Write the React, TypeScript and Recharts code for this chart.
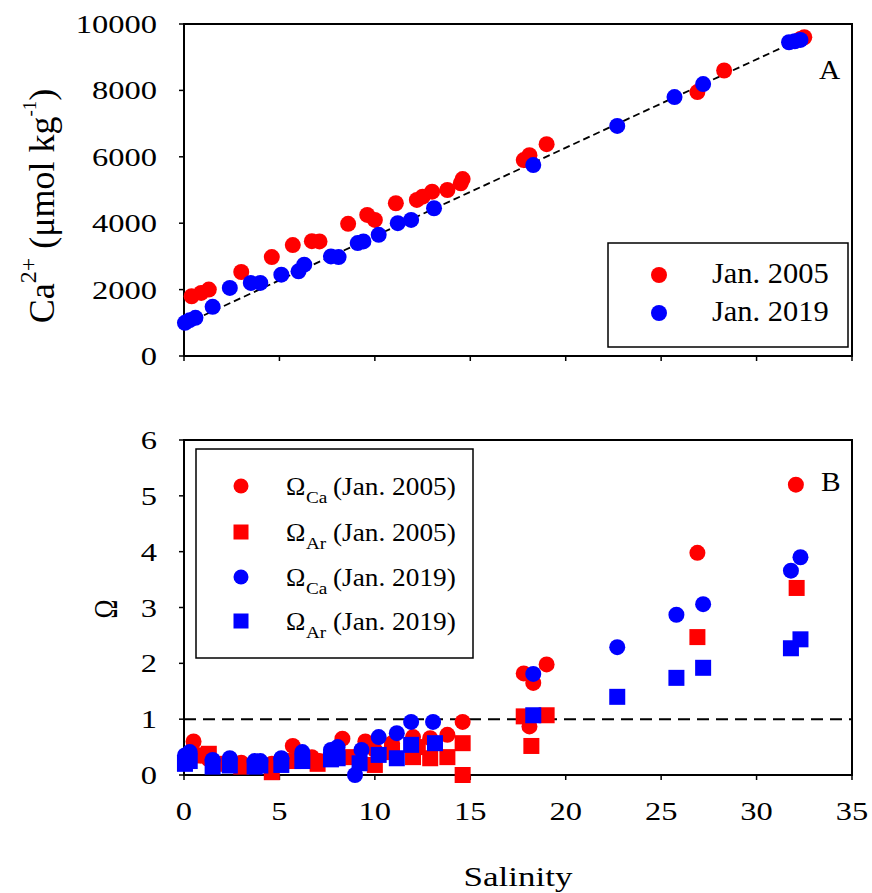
import React from 'react';
import { ScatterChart, Scatter, XAxis, YAxis, ReferenceArea } from 'recharts';

const RED = '#ff0000';
const BLUE = '#0000ff';
const FONT = '"Liberation Serif", "Times New Roman", serif';

// Tick values
const salinityTicks = [0, 5, 10, 15, 20, 25, 30, 35];
const caTicks = [0, 2000, 4000, 6000, 8000, 10000];
const omegaTicks = [0, 1, 2, 3, 4, 5, 6];

// Panel A: Ca2+ (µmol/kg) vs salinity  [salinity, Ca]
const ca2005 = [
  [0.4, 1800], [0.9, 1900], [1.3, 2000], [3.0, 2530], [4.6, 2980], [5.7, 3340],
  [6.7, 3460], [7.1, 3450], [8.6, 3980], [9.6, 4250], [10.0, 4100], [11.1, 4600],
  [12.2, 4700], [12.5, 4800], [13.0, 4950], [13.8, 5000], [14.5, 5200], [14.6, 5330],
  [17.8, 5900], [18.1, 6050], [19.0, 6380], [26.9, 7950], [28.3, 8600], [32.3, 9550], [32.5, 9600],
];
const ca2019 = [
  [0.05, 1000], [0.3, 1080], [0.6, 1150], [1.5, 1480], [2.4, 2050], [3.5, 2200],
  [4.0, 2200], [5.1, 2450], [6.0, 2550], [6.3, 2750], [7.7, 3000], [8.1, 2980],
  [9.1, 3400], [9.4, 3450], [10.2, 3650], [11.2, 4000], [11.9, 4100], [13.1, 4450],
  [18.3, 5750], [22.7, 6930], [25.7, 7800], [27.2, 8190], [31.7, 9450], [32.0, 9480], [32.3, 9520],
];
const caFitLine = [[0, 950], [32.5, 9600]];

// Panel B: saturation state vs salinity  [salinity, Omega]
const omegaCa2005 = [
  [0.5, 0.6], [0.9, 0.35], [1.3, 0.28], [3.0, 0.22], [4.6, 0.2], [5.7, 0.52],
  [6.7, 0.32], [7.1, 0.25], [8.3, 0.65], [9.5, 0.6], [10.0, 0.45], [10.9, 0.57],
  [12.0, 0.68], [12.9, 0.66], [13.8, 0.72], [14.6, 0.95], [17.8, 1.82], [18.1, 0.87],
  [18.3, 1.65], [19.0, 1.98], [26.9, 3.98], [32.06, 5.2],
];
const omegaAr2005 = [
  [0.5, 0.35], [1.3, 0.38], [2.0, 0.2], [3.0, 0.15], [4.6, 0.05], [5.7, 0.25],
  [7.0, 0.2], [8.7, 0.32], [10.0, 0.18], [10.9, 0.41], [12.0, 0.32], [12.25, 0.5],
  [12.9, 0.3], [13.8, 0.32], [14.6, 0.57], [14.6, 0.0], [17.8, 1.05], [18.2, 0.52],
  [19.0, 1.07], [26.9, 2.47], [32.1, 3.35],
];
const omegaCa2019 = [
  [0.05, 0.35], [0.3, 0.41], [1.5, 0.27], [2.4, 0.3], [3.7, 0.25], [4.0, 0.25],
  [5.1, 0.3], [6.2, 0.41], [7.7, 0.45], [8.05, 0.5], [8.96, 0.0], [9.3, 0.45],
  [10.2, 0.68], [11.15, 0.75], [11.9, 0.95], [13.05, 0.95], [18.3, 1.81], [22.7, 2.29],
  [25.8, 2.87], [27.2, 3.06], [31.8, 3.66], [32.3, 3.9],
];
const omegaAr2019 = [
  [0.05, 0.2], [0.3, 0.25], [1.5, 0.15], [2.4, 0.17], [3.7, 0.15], [4.0, 0.17],
  [5.1, 0.18], [6.2, 0.25], [7.7, 0.28], [8.05, 0.3], [9.2, 0.21], [10.2, 0.36],
  [11.15, 0.3], [11.9, 0.54], [13.15, 0.57], [18.3, 1.07], [22.7, 1.4], [25.8, 1.74],
  [27.2, 1.92], [31.8, 2.27], [32.3, 2.43],
];
const omegaThreshold = [[0, 1], [35, 1]];

const toPts = (arr: number[][]) => arr.map(([x, y]) => ({ x, y }));

const circleShape = (color: string, r: number) => (p: any) =>
  <circle cx={p.cx} cy={p.cy} r={r} fill={color} />;
const squareShape = (color: string, s: number) => (p: any) =>
  <rect x={p.cx - s / 2} y={p.cy - s / 2} width={s} height={s} fill={color} />;
const noShape = () => <g />;

const YTick = (props: any) => {
  const { x, y, payload } = props;
  return (
    <text transform={`translate(${x},${y + 9}) scale(1.25,1)`} textAnchor="end"
      fontSize={26} fontFamily={FONT} fill="#000">{payload.value}</text>
  );
};
const XTick = (props: any) => {
  const { x, y, payload } = props;
  return (
    <text transform={`translate(${x},${y + 40}) scale(1.25,1)`} textAnchor="middle"
      fontSize={26} fontFamily={FONT} fill="#000">{payload.value}</text>
  );
};
const EmptyTick = () => <g />;

const axisLine = { stroke: '#000', strokeWidth: 2 };
const tickLine = { stroke: '#000', strokeWidth: 1.5 };

const T = (p: { x: number; y: number; size: number; sx?: number; anchor?: string; children: any }) => (
  <text transform={`translate(${p.x},${p.y}) scale(${p.sx ?? 1},1)`} fontSize={p.size}
    fontFamily={FONT} textAnchor={(p.anchor as any) ?? 'start'} fill="#000">{p.children}</text>
);

const legendB = [
  { kind: 'circle', color: RED, sub: 'Ca', year: '(Jan. 2005)', y: 486 },
  { kind: 'square', color: RED, sub: 'Ar', year: '(Jan. 2005)', y: 532 },
  { kind: 'circle', color: BLUE, sub: 'Ca', year: '(Jan. 2019)', y: 577 },
  { kind: 'square', color: BLUE, sub: 'Ar', year: '(Jan. 2019)', y: 621 },
];

export default function App() {
  return (
    <div style={{ position: 'absolute', left: 0, top: 0, width: 872, height: 893, background: '#fff', fontFamily: FONT }}>
      <div style={{ position: 'absolute', left: 0, top: 0 }}>
        <ScatterChart width={872} height={400} margin={{ top: 24, right: 20, bottom: 0, left: 0 }}>
          <XAxis type="number" dataKey="x" domain={[0, 35]} ticks={salinityTicks} height={44}
            axisLine={axisLine} tickLine={tickLine} tickSize={5} tick={EmptyTick} />
          <YAxis type="number" dataKey="y" domain={[0, 10000]} ticks={caTicks} width={184}
            axisLine={axisLine} tickLine={tickLine} tickSize={5} tickMargin={22} tick={YTick} />
          <ReferenceArea x1={0} x2={35} y1={0} y2={10000} fill="none" fillOpacity={0} stroke="#000" strokeWidth={2} />
          <Scatter data={toPts(caFitLine)} shape={noShape} isAnimationActive={false}
            line={{ stroke: '#000', strokeWidth: 1.8, strokeDasharray: '7 4' }} />
          <Scatter data={toPts(ca2005)} shape={circleShape(RED, 8)} isAnimationActive={false} />
          <Scatter data={toPts(ca2019)} shape={circleShape(BLUE, 8)} isAnimationActive={false} />
        </ScatterChart>
      </div>
      <div style={{ position: 'absolute', left: 0, top: 400 }}>
        <ScatterChart width={872} height={493} margin={{ top: 40, right: 20, bottom: 0, left: 0 }}>
          <XAxis type="number" dataKey="x" domain={[0, 35]} ticks={salinityTicks} height={118}
            axisLine={axisLine} tickLine={tickLine} tickSize={5} tickMargin={0} tick={XTick} />
          <YAxis type="number" dataKey="y" domain={[0, 6]} ticks={omegaTicks} width={184}
            axisLine={axisLine} tickLine={tickLine} tickSize={5} tickMargin={22} tick={YTick} />
          <ReferenceArea x1={0} x2={35} y1={0} y2={6} fill="none" fillOpacity={0} stroke="#000" strokeWidth={2} />
          <Scatter data={toPts(omegaThreshold)} shape={noShape} isAnimationActive={false}
            line={{ stroke: '#000', strokeWidth: 2, strokeDasharray: '12 7' }} />
          <Scatter data={toPts(omegaAr2005)} shape={squareShape(RED, 16)} isAnimationActive={false} />
          <Scatter data={toPts(omegaCa2005)} shape={circleShape(RED, 8)} isAnimationActive={false} />
          <Scatter data={toPts(omegaCa2019)} shape={circleShape(BLUE, 8)} isAnimationActive={false} />
          <Scatter data={toPts(omegaAr2019)} shape={squareShape(BLUE, 16)} isAnimationActive={false} />
        </ScatterChart>
      </div>
      <svg width={872} height={893} style={{ position: 'absolute', left: 0, top: 0, pointerEvents: 'none' }}>
        {/* Axis titles */}
        <text transform="translate(54,206) rotate(-90)" textAnchor="middle" fontSize={36} fontFamily={FONT} fill="#000">
          Ca<tspan fontSize={24} dy={-18}>2+</tspan>
          <tspan fontSize={36} dy={18}> (μmol kg</tspan>
          <tspan fontSize={19} dy={-18}>-1</tspan>
          <tspan fontSize={36} dy={18}>)</tspan>
        </text>
        <text transform="translate(117,609) rotate(-90) scale(0.75,1)" textAnchor="middle" fontSize={34} fontFamily={FONT} fill="#000">Ω</text>
        <T x={518} y={886} size={28} sx={1.25} anchor="middle">Salinity</T>
        {/* Panel letters */}
        <T x={819} y={79} size={28} sx={1.05}>A</T>
        <T x={821} y={491} size={28} sx={1.05}>B</T>
        {/* Legend A */}
        <rect x={608} y={243} width={240} height={104} fill="#fff" stroke="#000" strokeWidth={1.5} />
        <circle cx={659} cy={275} r={8} fill={RED} />
        <circle cx={659} cy={313} r={8} fill={BLUE} />
        <T x={712} y={283} size={29} sx={1.05}>Jan. 2005</T>
        <T x={712} y={321} size={29} sx={1.05}>Jan. 2019</T>
        {/* Legend B */}
        <rect x={196} y={449} width={277} height={209} fill="#fff" stroke="#000" strokeWidth={1.5} />
        {legendB.map((e, i) => (
          <g key={i}>
            {e.kind === 'circle'
              ? <circle cx={241} cy={e.y} r={7.5} fill={e.color} />
              : <rect x={233.5} y={e.y - 7.5} width={15} height={15} fill={e.color} />}
            <T x={286} y={e.y + 9} size={26}>Ω</T>
            <T x={306} y={e.y + 17} size={16} sx={1.2}>{e.sub}</T>
            <T x={333} y={e.y + 9} size={26} sx={1.05}>{e.year}</T>
          </g>
        ))}
      </svg>
    </div>
  );
}
